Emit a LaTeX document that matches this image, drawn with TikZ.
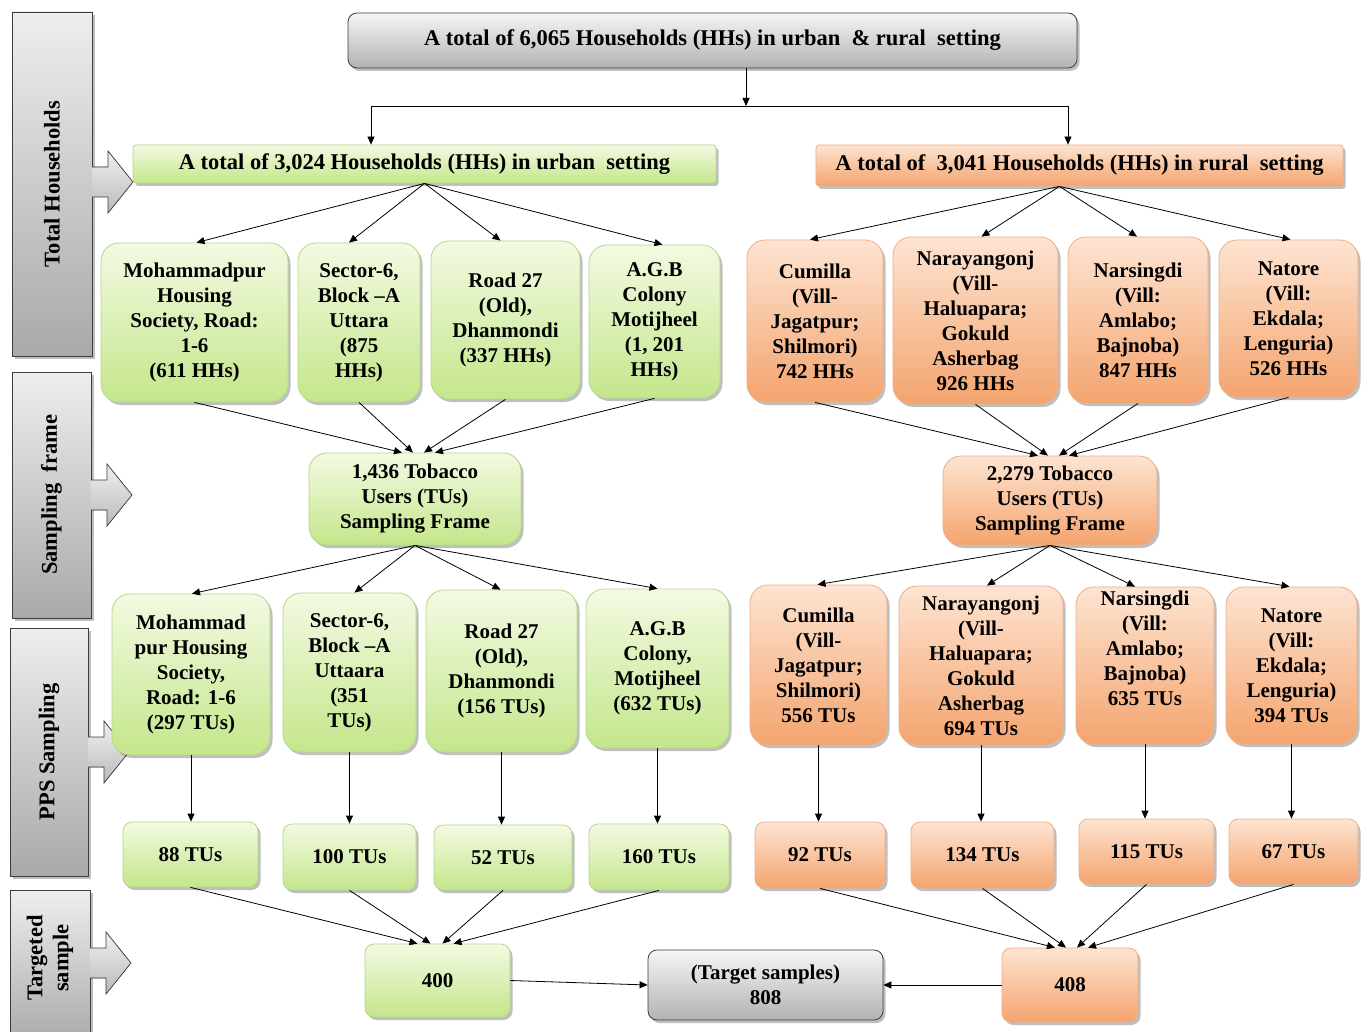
\documentclass[tikz,border=0pt]{standalone}
\usepackage{fontspec}
\setmainfont{Liberation Serif}
\usetikzlibrary{arrows.meta,shadows,calc}
\definecolor{gtop}{HTML}{F3FAE2}
\definecolor{gbot}{HTML}{C4E68B}
\definecolor{gline}{HTML}{B3D98C}
\definecolor{otop}{HTML}{FDE4D2}
\definecolor{obot}{HTML}{F4A46E}
\definecolor{oline}{HTML}{EFAE86}
\definecolor{ytop}{HTML}{F6F6F6}
\definecolor{ybot}{HTML}{B2B2B2}
\definecolor{yline}{HTML}{3C3C3C}
\definecolor{stop}{HTML}{EEEEEE}
\definecolor{sbot}{HTML}{A9A9A9}
\newcommand\sidearr[2]{%
  \fill[top color=stop!90!white,bottom color=sbot!80!white]
    (#1,{#2-15}) -- ({#1+16},{#2-15}) -- ({#1+16},{#2-31}) -- ({#1+41},#2)
    -- ({#1+16},{#2+31}) -- ({#1+16},{#2+15}) -- (#1,{#2+15}) -- cycle;
  \draw[yline,line width=0.7pt]
    (#1,{#2-15}) -- ({#1+16},{#2-15}) -- ({#1+16},{#2-31}) -- ({#1+41},#2)
    -- ({#1+16},{#2+31}) -- ({#1+16},{#2+15}) -- (#1,{#2+15});}
\tikzset{
  fnt/.style={font=\bfseries\fontsize{21}{25}\selectfont},
  hfnt/.style={font=\bfseries\fontsize{22.5}{26}\selectfont},
  sz/.style 2 args={minimum width=#1,minimum height=#2},
  shd/.style={drop shadow={shadow xshift=2.5pt,shadow yshift=-3pt,opacity=0.25,fill=black}},
  bx/.style={fnt,align=center,inner sep=0pt,rounded corners=18pt,line width=0.8pt,shd},
  gb/.style={bx,draw=gline,top color=gtop,bottom color=gbot},
  ob/.style={bx,draw=oline,top color=otop,bottom color=obot},
  yb/.style={bx,draw=yline,top color=ytop,bottom color=ybot},
  sm/.style={rounded corners=9pt},
  sidebox/.style={draw=yline,line width=0.8pt,top color=stop,bottom color=sbot,shd},
  sidetext/.style={font=\bfseries\fontsize{22.5}{26}\selectfont,rotate=90,align=center},
  arr/.style={-{Triangle[length=8pt,width=7pt]},line width=0.8pt,black},
  ln/.style={line width=0.8pt,black},
}
\begin{document}
\begin{tikzpicture}[x=1pt,y=-1pt]
\useasboundingbox[fill=white] (0,0) rectangle (1368,1032);

% sidebar
\node[sidebox,sz={80pt}{344pt}] (sb1) at (52,184) {};
\node[sidetext] (sb1t) at (sb1) {Total Households};
\node[sidebox,sz={79pt}{246pt}] (sb2) at (51.5,495) {};
\node[sidetext] (sb2t) at (sb2) {Sampling\ \ frame};
\node[sidebox,sz={78pt}{248pt}] (sb3) at (49,752) {};
\node[sidetext] (sb3t) at (sb3) {PPS Sampling};
\node[sidebox,sz={80pt}{155pt}] (sb4) at (50,967.5) {};
\node[sidetext] (sb4t) at (50,958) {Targeted\\sample};
\sidearr{92}{182}
\sidearr{91}{495}
\sidearr{88}{752}
\sidearr{90}{963}

% top
\node[yb,sm,hfnt,sz={729pt}{55pt}] (top) at (712.5,40.5) {A total of 6,065 Households (HHs) in urban\ \ \& rural\ \ setting};
\node[gb,hfnt,rounded corners=3pt,sz={583pt}{38pt}] (urban) at (424.5,164) {A total of 3,024 Households (HHs) in urban\ \ setting};
\node[ob,hfnt,rounded corners=3pt,sz={527pt}{41pt}] (rural) at (1079.5,165.5) {A total of\ \ 3,041 Households (HHs) in rural\ \ setting};

% urban row 1
\node[gb,sz={187pt}{159pt}] (u1) at (194.5,322.5) {Mohammadpur\\Housing\\Society, Road:\\1-6\\(611 HHs)};
\node[gb,sz={122pt}{159pt}] (u2) at (359,322.5) {Sector-6,\\Block –A\\Uttara\\(875\\HHs)};
\node[gb,sz={149pt}{158pt}] (u3) at (505.5,320) {Road 27\\(Old),\\Dhanmondi\\(337 HHs)};
\node[gb,sz={131pt}{153pt}] (u4) at (654.5,321.5) {A.G.B\\Colony\\Motijheel\\(1, 201\\HHs)};
\node[gb,sz={212pt}{92pt}] (sfu) at (415,499) {1,436 Tobacco\\Users (TUs)\\Sampling Frame};
% urban row 2
\node[gb,sz={158pt}{161pt}] (l1) at (191,674.5) {Mohammad\\pur Housing\\Society,\\Road: 1-6\\(297 TUs)};
\node[gb,sz={133pt}{159pt}] (l2) at (349.5,672.5) {Sector-6,\\Block –A\\Uttaara\\(351\\TUs)};
\node[gb,sz={151pt}{162pt}] (l3) at (501.5,671) {Road 27\\(Old),\\Dhanmondi\\(156 TUs)};
\node[gb,sz={143pt}{159pt}] (l4) at (657.5,668.5) {A.G.B\\Colony,\\Motijheel\\(632 TUs)};
% urban row 3
\node[gb,sm,sz={135pt}{65pt}] (t1) at (190.5,854.5) {88 TUs};
\node[gb,sm,sz={133pt}{66pt}] (t2) at (349.5,857) {100 TUs};
\node[gb,sm,sz={138pt}{65pt}] (t3) at (503,857.5) {52 TUs};
\node[gb,sm,sz={140pt}{66pt}] (t4) at (659,857) {160 TUs};
\node[gb,sm,sz={145pt}{73pt}] (b400) at (437.5,980.5) {400};

% rural row 1
\node[ob,sz={136pt}{162pt}] (r1) at (815,321) {Cumilla\\(Vill-\\Jagatpur;\\Shilmori)\\742 HHs};
\node[ob,sz={165pt}{167pt}] (r2) at (975.5,320.5) {Narayangonj\\(Vill-\\Haluapara;\\Gokuld\\Asherbag\\926 HHs};
\node[ob,sz={140pt}{166pt}] (r3) at (1138,320) {Narsingdi\\(Vill:\\Amlabo;\\Bajnoba)\\847 HHs};
\node[ob,sz={139pt}{157pt}] (r4) at (1288.5,318.5) {Natore\\(Vill:\\Ekdala;\\Lenguria)\\526 HHs};
\node[ob,sz={214pt}{89pt}] (sfr) at (1050,500.5) {2,279 Tobacco\\Users (TUs)\\Sampling Frame};
% rural row 2
\node[ob,sz={137pt}{160pt}] (s1) at (818.5,665) {Cumilla\\(Vill-\\Jagatpur;\\Shilmori)\\556 TUs};
\node[ob,sz={164pt}{159pt}] (s2) at (981,665.5) {Narayangonj\\(Vill-\\Haluapara;\\Gokuld\\Asherbag\\694 TUs};
\node[ob,sz={138pt}{157pt}] (s3) at (1145,665.5) {Narsingdi\\(Vill:\\Amlabo;\\Bajnoba)\\635 TUs\\[10pt]};
\node[ob,sz={131pt}{157pt}] (s4) at (1291.5,665.5) {Natore\\(Vill:\\Ekdala;\\Lenguria)\\394 TUs};
% rural row 3
\node[ob,sm,sz={130pt}{66pt}] (v1) at (820,855) {92 TUs};
\node[ob,sm,sz={143pt}{66pt}] (v2) at (982.5,855) {134 TUs};
\node[ob,sm,sz={135pt}{65pt}] (v3) at (1146.5,851.5) {115 TUs};
\node[ob,sm,sz={129pt}{65pt}] (v4) at (1293.5,851.5) {67 TUs};
\node[ob,sm,sz={136pt}{74pt}] (b408) at (1070,985) {408};

\node[yb,sm,sz={235pt}{70pt}] (tgt) at (765.5,985) {(Target samples)\\808};

% top split
\coordinate (split) at (746,106);
\coordinate (hl) at (371,106);
\coordinate (hr) at (1068,106);
\draw[arr] (top.south -| split) -- (split);
\draw[ln] (hl) -- (hr);
\draw[arr] (hl) -- (urban.north -| hl);
\draw[arr] (hr) -- (rural.north -| hr);

% urban fans
\draw[arr] (urban.south) -- ([xshift=2pt]u1.north);
\draw[arr] (urban.south) -- ([xshift=-10pt]u2.north);
\draw[arr] (urban.south) -- ([xshift=-5pt]u3.north);
\draw[arr] (urban.south) -- ([xshift=8pt]u4.north);
\draw[arr] (u1.south) -- ([xshift=-13pt]sfu.north);
\draw[arr] (u2.south) -- ([xshift=-2pt]sfu.north);
\draw[arr] (u3.south) -- ([xshift=9pt]sfu.north);
\draw[arr] (u4.south) -- ([xshift=20pt]sfu.north);
\draw[arr] (sfu.south) -- ([xshift=1pt]l1.north);
\draw[arr] (sfu.south) -- ([xshift=5pt]l2.north);
\draw[arr] (sfu.south) -- ([xshift=-1pt]l3.north);
\draw[arr] (sfu.south) -- (l4.north);
\draw[arr] (l1.south) -- (l1.south |- t1.north);
\draw[arr] (l2.south) -- (l2.south |- t2.north);
\draw[arr] (l3.south) -- (l3.south |- t3.north);
\draw[arr] (l4.south) -- (l4.south |- t4.north);
\draw[arr] (t1.south) -- ([xshift=-20pt]b400.north);
\draw[arr] (t2.south) -- ([xshift=-7pt]b400.north);
\draw[arr] (t3.south) -- ([xshift=5pt]b400.north);
\draw[arr] (t4.south) -- ([xshift=16pt]b400.north);

% rural fans
\coordinate (rf) at ([xshift=-20pt]rural.south);
\draw[arr] (rf) -- ([xshift=-5pt]r1.north);
\draw[arr] (rf) -- ([xshift=6pt]r2.north);
\draw[arr] (rf) -- ([xshift=-1pt]r3.north);
\draw[arr] (rf) -- ([xshift=2pt]r4.north);
\draw[arr] (r1.south) -- ([xshift=-12pt]sfr.north);
\draw[arr] (r2.south) -- ([xshift=-2pt]sfr.north);
\draw[arr] (r3.south) -- ([xshift=9pt]sfr.north);
\draw[arr] (r4.south) -- ([xshift=19pt]sfr.north);
\draw[arr] (sfr.south) -- ([xshift=-1pt]s1.north);
\draw[arr] (sfr.south) -- ([xshift=6pt]s2.north);
\draw[arr] (sfr.south) -- ([xshift=-10pt]s3.north);
\draw[arr] (sfr.south) -- ([xshift=-2pt]s4.north);
\draw[arr] (s1.south) -- (s1.south |- v1.north);
\draw[arr] (s2.south) -- (s2.south |- v2.north);
\draw[arr] (s3.south) -- (s3.south |- v3.north);
\draw[arr] (s4.south) -- (s4.south |- v4.north);
\draw[arr] (v1.south) -- ([xshift=-15pt]b408.north);
\draw[arr] (v2.south) -- ([xshift=-4pt]b408.north);
\draw[arr] (v3.south) -- ([xshift=7pt]b408.north);
\draw[arr] (v4.south) -- ([xshift=18pt]b408.north);

% to target
\draw[arr] (b400.east) -- (tgt.west);
\draw[arr] (b408.west) -- (tgt.east);
\end{tikzpicture}
\end{document}
